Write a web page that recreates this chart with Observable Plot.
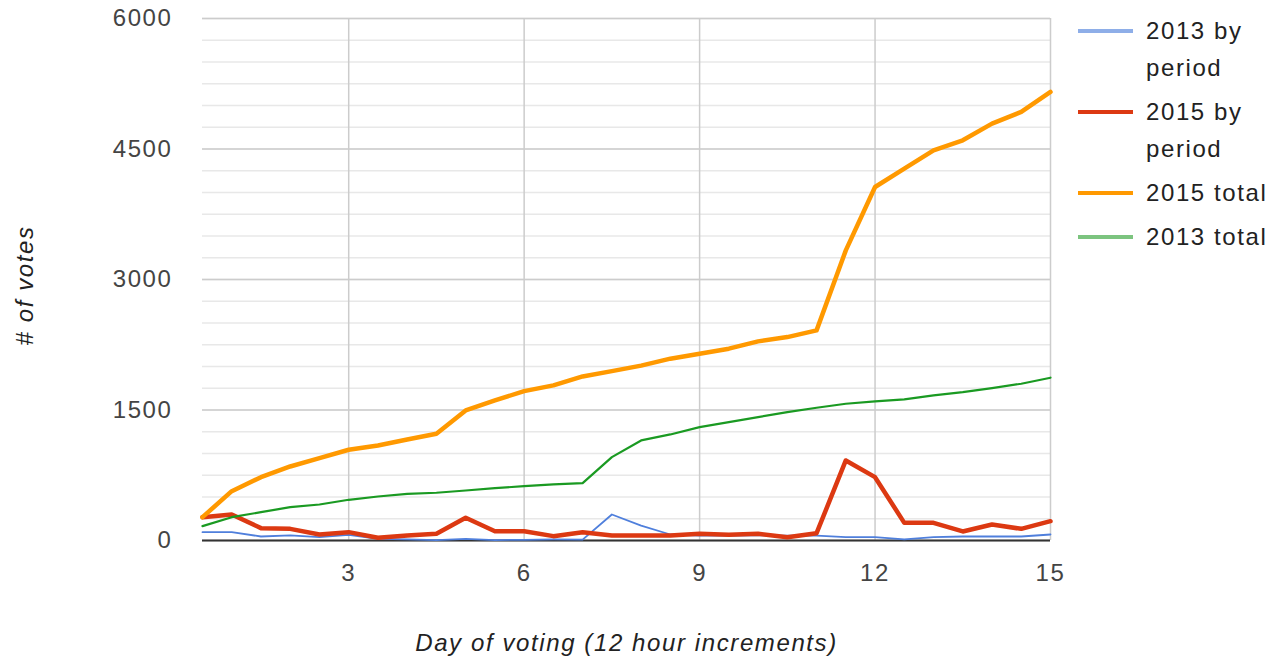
<!DOCTYPE html>
<html>
<head>
<meta charset="utf-8">
<script src="https://cdn.jsdelivr.net/npm/d3@7"></script>
<script src="https://cdn.jsdelivr.net/npm/@observablehq/plot@0.6"></script>
<style>
  html, body { margin: 0; padding: 0; background: #fff; }
  #wrap { position: relative; width: 1274px; height: 661px; font-family: "Liberation Sans", Arial, sans-serif; }
  #legend { position: absolute; left: 1078px; top: 12px; }
  .item { display: flex; align-items: flex-start; margin-bottom: 7px; }
  .sw { width: 55px; height: 4px; margin-top: 17px; margin-right: 13px; flex: none; }
  .lab { width: 132px; font-size: 24px; line-height: 37px; letter-spacing: 1.6px; color: #222; }
</style>
</head>
<body>
<div id="wrap">
  <div id="chart"></div>
  <div id="legend"></div>
</div>
<script>
const periods = [0.5, 1, 1.5, 2, 2.5, 3, 3.5, 4, 4.5, 5, 5.5, 6, 6.5, 7, 7.5, 8, 8.5, 9, 9.5, 10, 10.5, 11, 11.5, 12, 12.5, 13, 13.5, 14, 14.5, 15];
const byPeriod2013 = [96, 96, 46, 58, 38, 65, 19, 12, 5, 19, 5, 8, 12, 10, 299, 172, 69, 55, 55, 60, 55, 55, 38, 38, 12, 38, 46, 46, 46, 69];
const byPeriod2015 = [268, 299, 142, 134, 69, 96, 31, 58, 77, 261, 107, 107, 50, 96, 58, 58, 58, 77, 65, 77, 38, 84, 920, 728, 203, 203, 104, 184, 134, 222];
const total2015 = [268, 567, 728, 851, 946, 1043, 1092, 1161, 1227, 1495, 1610, 1717, 1783, 1886, 1947, 2010, 2090, 2147, 2205, 2289, 2338, 2415, 3335, 4063, 4275, 4485, 4600, 4792, 4926, 5156];
const total2013 = [165, 268, 326, 383, 414, 468, 506, 537, 549, 575, 602, 625, 644, 659, 958, 1150, 1219, 1303, 1361, 1418, 1476, 1526, 1572, 1599, 1622, 1668, 1706, 1752, 1802, 1871];

const seriesNames = ["2013 by period", "2015 by period", "2015 total", "2013 total"];
const lineColors = ["#4f7fdc", "#dc3912", "#ff9900", "#1a9a22"];
const swatchColors = ["#8eaee8", "#dc3912", "#ff9900", "#7cc47f"];
const lineWidths = [1.8, 4.5, 4.5, 2.2];

const xTicks = [3, 6, 9, 12, 15];
const yTicks = [0, 1500, 3000, 4500, 6000];
const yMinorTicks = d3.range(0, 6001, 250);
const xTitle = "Day of voting (12 hour increments)";
const yTitle = "# of votes";

const seriesValues = [byPeriod2013, byPeriod2015, total2015, total2013];
const rows = seriesValues.map((vals, s) => periods.map((p, i) => ({period: p, votes: vals[i], series: seriesNames[s]})));

const chart = Plot.plot({
  width: 1274,
  height: 661,
  marginLeft: 202,
  marginRight: 224,
  marginTop: 18,
  marginBottom: 121,
  style: {fontFamily: "'Liberation Sans', Arial, sans-serif", fontSize: "24px", letterSpacing: "1.6px", background: "#fff"},
  x: {domain: [0.5, 15]},
  y: {domain: [0, 6000]},
  marks: [
    Plot.ruleY(yMinorTicks, {stroke: "#e8e8e8", strokeWidth: 1.5}),
    Plot.ruleY(yTicks, {stroke: "#cccccc", strokeWidth: 1.5}),
    Plot.ruleX(xTicks, {stroke: "#cccccc", strokeWidth: 1.5}),
    Plot.ruleY([0], {stroke: "#333333", strokeWidth: 2}),
    ...rows.map((r, s) => Plot.line(r, {x: "period", y: "votes", stroke: lineColors[s], strokeWidth: lineWidths[s]})),
    Plot.axisX({ticks: xTicks, tickSize: 0, tickPadding: 23, fontSize: 24, fill: "#444", label: null}),
    Plot.axisY({ticks: yTicks, tickFormat: d3.format("d"), tickSize: 0, tickPadding: 30, fontSize: 24, fill: "#444", label: null}),
    Plot.text([xTitle], {frameAnchor: "bottom", dy: 103, fontSize: 24, fontStyle: "italic", fill: "#222", lineAnchor: "middle"}),
    Plot.text([yTitle], {frameAnchor: "left", dx: -177, dy: 6, rotate: -90, textAnchor: "middle", fontSize: 24, fontStyle: "italic", fill: "#222", lineAnchor: "middle"})
  ]
});
document.getElementById("chart").appendChild(chart);

const legend = document.getElementById("legend");
seriesNames.forEach((name, i) => {
  const item = document.createElement("div");
  item.className = "item";
  const sw = document.createElement("div");
  sw.className = "sw";
  sw.style.background = swatchColors[i];
  const lab = document.createElement("div");
  lab.className = "lab";
  lab.textContent = name;
  item.appendChild(sw);
  item.appendChild(lab);
  legend.appendChild(item);
});
</script>
</body>
</html>
